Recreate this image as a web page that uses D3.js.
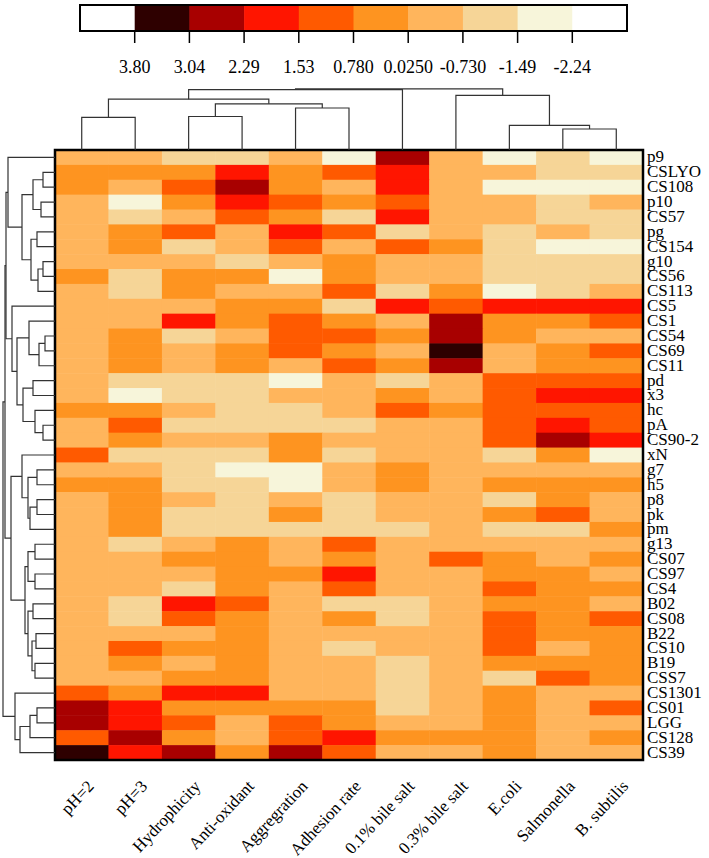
<!DOCTYPE html>
<html>
<head>
<meta charset="utf-8">
<script src="https://cdn.jsdelivr.net/npm/d3@7"></script>
<style>
  body { margin: 0; background: #fff; }
  svg { display: block; font-family: "Liberation Serif", "Times New Roman", serif; }
</style>
</head>
<body>
<svg id="chart" width="709" height="858"></svg>
<script>
const columns = ["pH=2", "pH=3", "Hydrophicity", "Anti-oxidant", "Aggregration", "Adhesion rate",
	"0.1% bile salt", "0.3% bile salt", "E.coli", "Salmonella", "B. subtilis"];

const rows = ["p9", "CSLYO", "CS108", "p10", "CS57", "pg", "CS154", "g10", "CS56", "CS113",
	"CS5", "CS1", "CS54", "CS69", "CS11", "pd", "x3", "hc", "pA", "CS90-2",
	"xN", "g7", "h5", "p8", "pk", "pm", "g13", "CS07", "CS97", "CS4",
	"B02", "CS08", "B22", "CS10", "B19", "CSS7", "CS1301", "CS01", "LGG", "CS128", "CS39"];

// one row per strain, columns in the order above
const values = [
	[-0.35, -0.35, -1.1, -1.1, -0.35, -1.85, 2.7, -0.35, -1.85, -1.1, -1.85],
	[0.4, 0.4, 0.4, 1.9, 0.4, 1.15, 1.9, -0.35, -0.35, -1.1, -1.1],
	[0.4, -0.35, 1.15, 2.7, 0.4, -0.35, 1.9, -0.35, -1.85, -1.85, -1.85],
	[-0.35, -1.85, 0.4, 1.9, 1.15, 0.4, 1.15, -0.35, -0.35, -1.1, -0.35],
	[-0.35, -1.1, -0.35, 1.15, 0.4, -1.1, 1.9, -0.35, -0.35, -1.1, -1.1],
	[-0.35, 0.4, 1.15, -0.35, 1.9, 1.15, -1.1, -0.35, -1.1, -0.35, -1.1],
	[-0.35, 0.4, -1.1, -0.35, 1.15, -0.35, 1.15, 0.4, -1.1, -1.85, -1.85],
	[-0.35, -0.35, -0.35, -1.1, -0.35, 0.4, -0.35, -0.35, -1.1, -1.1, -1.1],
	[0.4, -1.1, 0.4, 0.4, -1.85, 0.4, -0.35, -0.35, -1.1, -1.1, -1.1],
	[-0.35, -1.1, 0.4, -0.35, -0.35, 1.15, -1.1, 0.4, -1.85, -1.1, -0.35],
	[-0.35, -0.35, -0.35, 0.4, 0.4, -1.1, 1.9, 1.15, 1.9, 1.9, 1.9],
	[-0.35, -0.35, 1.9, 0.4, 1.15, 0.4, -0.35, 2.7, 0.4, 0.4, 1.15],
	[-0.35, 0.4, -1.1, -0.35, 1.15, 1.15, 0.4, 2.7, 0.4, -0.35, -0.35],
	[-0.35, 0.4, -0.35, 0.4, 1.15, 0.4, -0.35, 3.4, -0.35, 0.4, 1.15],
	[-0.35, 0.4, -0.35, 0.4, -0.35, 1.15, 0.4, 2.7, -0.35, 0.4, 0.4],
	[-0.35, -1.1, -1.1, -1.1, -1.85, -0.35, -1.1, -0.35, 1.15, 1.15, 1.15],
	[-0.35, -1.85, -1.1, -1.1, -0.35, -0.35, 0.4, -0.35, 1.15, 1.9, 1.9],
	[0.4, 0.4, -0.35, -1.1, -1.1, -0.35, 1.15, 0.4, 1.15, 1.15, 1.15],
	[-0.35, 1.15, -1.1, -1.1, -1.1, -1.1, -0.35, -0.35, 1.15, 1.9, 1.15],
	[-0.35, 0.4, -0.35, -0.35, 0.4, -0.35, -0.35, -0.35, 1.15, 2.7, 1.9],
	[1.15, -1.1, -1.1, -1.1, 0.4, -1.1, -0.35, -0.35, -1.1, 0.4, -1.85],
	[-0.35, -0.35, -1.1, -1.85, -1.85, -0.35, 0.4, -0.35, -0.35, -0.35, -0.35],
	[0.4, 0.4, -1.1, -1.1, -1.85, -0.35, 0.4, -0.35, 0.4, 0.4, 0.4],
	[-0.35, 0.4, -0.35, -1.1, -0.35, -1.1, -0.35, -0.35, -1.1, 0.4, -0.35],
	[-0.35, 0.4, -1.1, -1.1, 0.4, -1.1, -0.35, -0.35, 0.4, 1.15, -0.35],
	[-0.35, 0.4, -1.1, -1.1, -1.1, -1.1, -1.1, -0.35, -1.1, -1.1, 0.4],
	[-0.35, -1.1, -0.35, 0.4, -0.35, 1.15, -0.35, -0.35, -0.35, -0.35, -0.35],
	[-0.35, -0.35, 0.4, 0.4, -0.35, 0.4, -0.35, 1.15, 0.4, -0.35, 0.4],
	[-0.35, -0.35, -0.35, 0.4, 0.4, 1.9, -0.35, -0.35, 0.4, 0.4, -0.35],
	[-0.35, -0.35, -1.1, 0.4, -0.35, 1.15, -0.35, -0.35, 1.15, 0.4, 0.4],
	[-0.35, -1.1, 1.9, 1.15, -0.35, -1.1, -1.1, -0.35, 0.4, 0.4, -0.35],
	[-0.35, -1.1, 1.15, 0.4, -0.35, 0.4, -1.1, -0.35, 1.15, 0.4, 1.15],
	[-0.35, -0.35, -0.35, 0.4, -0.35, -0.35, -0.35, -0.35, 1.15, 0.4, 0.4],
	[-0.35, 1.15, 0.4, 0.4, -0.35, -1.1, -0.35, -0.35, 1.15, -0.35, 0.4],
	[-0.35, 0.4, -0.35, 0.4, -0.35, -0.35, -1.1, -0.35, 0.4, 0.4, 0.4],
	[-0.35, -0.35, 0.4, 0.4, -0.35, -0.35, -1.1, -0.35, -1.1, 1.15, 0.4],
	[1.15, 0.4, 1.9, 1.9, -0.35, -0.35, -1.1, -0.35, 0.4, -0.35, -0.35],
	[2.7, 1.9, 0.4, 0.4, 0.4, 0.4, -1.1, -0.35, 0.4, -0.35, 1.15],
	[2.7, 1.9, 1.15, -0.35, 1.15, 0.4, -0.35, -0.35, 0.4, -0.35, -0.35],
	[1.15, 2.7, 0.4, -0.35, 1.15, 1.9, 0.4, 0.4, 0.4, -0.35, 0.4],
	[3.4, 1.9, 2.7, 0.4, 2.7, 1.15, -0.35, -0.35, 0.4, -0.35, -0.35]
];

const breaks = [-2.24, -1.49, -0.73, 0.025, 0.78, 1.53, 2.29, 3.04, 3.80];
const breakLabels = ["3.80", "3.04", "2.29", "1.53", "0.780", "0.0250", "-0.730", "-1.49", "-2.24"];
const palette = ["#ffffff", "#f7f5da", "#f6d597", "#ffb55c", "#fe9420", "#ff5a00", "#ff1500", "#a80000", "#2e0000", "#ffffff"];

// [mergeHeight, left, right], leaves are names
const colTree = [61.2,
	[60.4,
		[50.8, [32.7, "pH=2", "pH=3"],
			[46.2, [33.5, "Hydrophicity", "Anti-oxidant"], [42, "Aggregration", "Adhesion rate"]]],
		"0.1% bile salt"],
	[54.6, "0.3% bile salt", [24.6, "E.coli", [21, "Salmonella", "B. subtilis"]]]];

const rowTree = [52,
	[50,
		[49,
			[47, "p9", [33, [22, [12, "CSLYO", "CS108"], [14, "p10", "CS57"]],
				[24, [18, "pg", "CS154"], [17, [12, "g10", "CS56"], "CS113"]]]],
			[43, "CS5", [38, [26, "CS1", [16, [10, "CS54", "CS69"], "CS11"]],
				[32, [22, "pd", "x3"], [20, "hc", [12, "pA", "CS90-2"]]]]]],
		[44,
			[33, "xN", [27, [18, "g7", "h5"], [25, [18, "p8", "pk"], "pm"]]],
			[30, [27, [20, "g13", "CS07"], [20, "CS97", "CS4"]],
				[27, [22, "B02", "CS08"], [23, [19, "B22", "CS10"], [20, "B19", "CSS7"]]]]]],
	[40, "CS1301", [35, [25, [18, "CS01", "LGG"], "CS128"], "CS39"]]];

const svg = d3.select("#chart");

const mapLeft = 55, mapRight = 643, mapTop = 150, mapBottom = 760;

const x = d3.scaleBand().domain(columns).range([mapLeft, mapRight]);
const y = d3.scaleBand().domain(rows).range([mapTop, mapBottom]);
const color = d3.scaleThreshold().domain(breaks).range(palette);

// heatmap cells
const cells = svg.append("g");
rows.forEach((r, i) => {
	cells.selectAll(null)
		.data(values[i])
		.enter().append("rect")
			.attr("x", (d, j) => x(columns[j]))
			.attr("y", y(r))
			.attr("width", x.bandwidth() + 0.5)
			.attr("height", y.bandwidth() + 0.5)
			.attr("fill", d => color(d));
});

svg.append("rect")
	.attr("x", mapLeft).attr("y", mapTop)
	.attr("width", mapRight - mapLeft).attr("height", mapBottom - mapTop)
	.attr("fill", "none")
	.attr("stroke", "#000")
	.attr("stroke-width", 2.5);

// dendrograms
function layoutTree(tree, pos) {
	const root = d3.hierarchy(tree, d => Array.isArray(d) ? d.slice(1) : null);
	root.eachAfter(n => {
		if (n.children) {
			n.h = n.data[0];
			n.p = d3.mean(n.children, c => c.p);
		} else {
			n.h = 0;
			n.p = pos(n.data);
		}
	});
	return root;
}

const colRoot = layoutTree(colTree, c => x(c) + x.bandwidth() / 2);
const hTop = d3.scaleLinear().domain([0, 61.2]).range([mapTop, 88.8]);

svg.append("g")
	.selectAll("path")
	.data(colRoot.descendants().filter(n => n.children))
	.enter().append("path")
		.attr("d", n => {
			const [a, b] = n.children;
			return `M${a.p},${hTop(a.h)}V${hTop(n.h)}H${b.p}V${hTop(b.h)}`;
		})
		.attr("fill", "none")
		.attr("stroke", "#333")
		.attr("stroke-width", 1.2);

const rowRoot = layoutTree(rowTree, r => y(r) + y.bandwidth() / 2);
const hLeft = d3.scaleLinear().domain([0, 52]).range([mapLeft, 3]);

svg.append("g")
	.selectAll("path")
	.data(rowRoot.descendants().filter(n => n.children))
	.enter().append("path")
		.attr("d", n => {
			const [a, b] = n.children;
			return `M${hLeft(a.h)},${a.p}H${hLeft(n.h)}V${b.p}H${hLeft(b.h)}`;
		})
		.attr("fill", "none")
		.attr("stroke", "#333")
		.attr("stroke-width", 1.2);

// row labels
svg.append("g")
	.selectAll("text")
	.data(rows)
	.enter().append("text")
		.attr("x", mapRight + 4)
		.attr("y", r => y(r) + y.bandwidth() / 2 + 5)
		.attr("font-size", "17px")
		.text(r => r);

// column labels
svg.append("g")
	.selectAll("text")
	.data(columns)
	.enter().append("text")
		.attr("text-anchor", "end")
		.attr("transform", c => `translate(${x(c) + x.bandwidth() / 2 + 13},${787}) rotate(-47)`)
		.attr("font-size", "17px")
		.text(c => c);

// legend
const legendColors = palette.slice().reverse();
const lx = d3.scaleBand().domain(d3.range(legendColors.length)).range([80, 627]);
const legend = svg.append("g");

legend.selectAll("rect")
	.data(legendColors)
	.enter().append("rect")
		.attr("x", (d, i) => lx(i))
		.attr("y", 5)
		.attr("width", lx.bandwidth() + 0.5)
		.attr("height", 26)
		.attr("fill", d => d);

legend.append("rect")
	.attr("x", 80).attr("y", 5)
	.attr("width", 547).attr("height", 26)
	.attr("fill", "none")
	.attr("stroke", "#000")
	.attr("stroke-width", 2);

const tick = legend.selectAll("g.tick")
	.data(breakLabels)
	.enter().append("g")
		.attr("class", "tick")
		.attr("transform", (d, i) => `translate(${lx(i + 1)},0)`);

tick.append("line")
	.attr("y1", 31).attr("y2", 43)
	.attr("stroke", "#000")
	.attr("stroke-width", 1.5);

tick.append("text")
	.attr("y", 73)
	.attr("text-anchor", "middle")
	.attr("font-size", "18px")
	.text(d => d);
</script>
</body>
</html>
